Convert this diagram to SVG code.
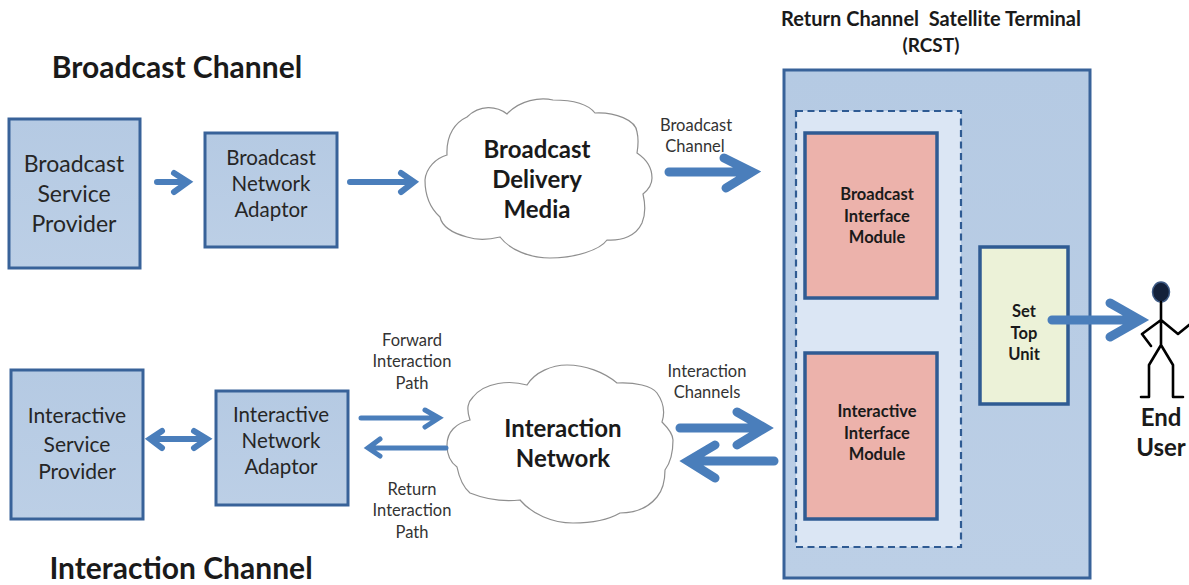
<svg xmlns="http://www.w3.org/2000/svg" width="1189" height="585" viewBox="0 0 1189 585">
<defs>
<linearGradient id="g" x1="0" y1="0" x2="0" y2="1"><stop offset="0" stop-color="#b5cae3"/><stop offset="1" stop-color="#bccfe6"/></linearGradient>
</defs>
<style>
text{font-family:Lato,"Liberation Sans",sans-serif;fill:#1a1a1a;text-anchor:middle}
.box{fill:url(#g);stroke:#386299;stroke-width:3}
.pink{fill:#ecb2ab;stroke:#2f5b93;stroke-width:3.5}
.cloud{fill:#fff;stroke:#8f8f8f;stroke-width:1.2}
.a{fill:none;stroke:#4a7ebb;stroke-linejoin:miter;stroke-linecap:round}
.b{font-weight:700}
.s{font-size:16.5px;fill:#333}
.l{font-size:23px;fill:#262626}
.m{font-size:20.5px;fill:#262626}
.i{font-size:16.5px;font-weight:700}
.c{font-size:24px;font-weight:700}
.h{font-size:30px;font-weight:700}
.f{fill:none;stroke:#000;stroke-width:2.6;stroke-linejoin:round;stroke-linecap:round}
</style>
<rect width="1189" height="585" fill="#fff"/>
<text class="h" x="177" y="78">Broadcast Channel</text>
<text class="h" x="181" y="579">Interaction Channel</text>
<g id="rcst">
<text class="b" x="931" y="26" font-size="20" xml:space="preserve">Return Channel  Satellite Terminal</text>
<text class="b" x="931" y="52" font-size="19">(RCST)</text>
<rect class="box" x="784" y="70" width="306" height="508"/>
<rect x="796" y="111" width="165" height="436" fill="#dbe6f4" stroke="#2f5b93" stroke-width="2.2" stroke-dasharray="7 4.5"/>
</g>
<g id="broadcast-service-provider">
<rect class="box" x="9" y="119" width="131" height="149"/>
<text class="l" x="74" y="172">Broadcast</text>
<text class="l" x="74" y="202">Service</text>
<text class="l" x="74" y="232">Provider</text>
</g>
<g id="broadcast-network-adaptor">
<rect class="box" x="205" y="133" width="132" height="114"/>
<text class="m" x="271" y="165">Broadcast</text>
<text class="m" x="271" y="191">Network</text>
<text class="m" x="271" y="217">Adaptor</text>
</g>
<g id="interactive-service-provider">
<rect class="box" x="11" y="370" width="132" height="149"/>
<text class="l" style="font-size:21px" x="77" y="423">Interactive</text>
<text class="l" style="font-size:21px" x="77" y="452">Service</text>
<text class="l" style="font-size:21px" x="77" y="479">Provider</text>
</g>
<g id="interactive-network-adaptor">
<rect class="box" x="216" y="391" width="132" height="114"/>
<text class="m" x="281" y="422">Interactive</text>
<text class="m" x="281" y="448">Network</text>
<text class="m" x="281" y="474">Adaptor</text>
</g>
<g id="broadcast-delivery-media">
<path class="cloud" d="M425 180C426 168 436 158 447 155C446 134 456 122 467 117C480 104 497 106 507 114C520 100 540 97 553 100C572 100 588 104 595 113C615 112 636 120 637 132C639 140 638 147 637 153C646 159 652 168 652 178C652 185 648 190 643 194C646 207 645 216 642 223C636 236 622 241 607 240C600 250 575 258 550 258C530 258 510 250 500 237C488 240 476 240 467 237C452 233 442 226 440 217C430 208 425 195 425 180Z"/>
<text class="c" x="537" y="158">Broadcast</text>
<text class="c" x="537" y="188">Delivery</text>
<text class="c" x="537" y="218">Media</text>
</g>
<g id="interaction-network">
<path class="cloud" d="M447 445C447 432 456 423 470 420C466 408 468 402 473 397C485 382 510 380 527 385C535 372 552 365 567 365C585 365 604 372 617 383C635 382 652 386 657 393C664 403 665 413 662 422C668 428 673 434 673 440C673 451 671 462 665 470C665 484 662 491 657 497C648 508 634 513 620 513C608 520 590 523 573 523C552 523 532 514 520 500C502 502 485 499 470 493C463 487 459 477 457 467C450 462 447 454 447 445Z"/>
<text class="c" x="563" y="437">Interaction</text>
<text class="c" x="563" y="467">Network</text>
</g>
<g id="broadcast-interface-module">
<rect class="pink" x="805" y="133" width="132" height="165"/>
<text class="i" x="877" y="200">Broadcast</text>
<text class="i" x="877" y="222">Interface</text>
<text class="i" x="877" y="243">Module</text>
</g>
<g id="interactive-interface-module">
<rect class="pink" x="805" y="353" width="132" height="166"/>
<text class="i" x="877" y="417">Interactive</text>
<text class="i" x="877" y="439">Interface</text>
<text class="i" x="877" y="460">Module</text>
</g>
<g id="set-top-unit">
<rect x="980" y="247" width="88" height="157" fill="#ecf2d8" stroke="#2f5b93" stroke-width="3.5"/>
<text class="i" x="1024" y="317">Set</text>
<text class="i" x="1024" y="339">Top</text>
<text class="i" x="1024" y="360">Unit</text>
</g>
<g id="end-user">
<ellipse cx="1161" cy="292" rx="8.5" ry="10" fill="#14213a" stroke="#3d5a85" stroke-width="1.5"/>
<path class="f" d="M1161 302V345M1142 334L1161 320L1178 334L1189 325M1142 334L1151 346M1161 345L1149 365V397H1141M1161 345L1173 365V397H1183"/>
<text class="c" x="1161" y="426">End</text>
<text class="c" x="1161" y="456">User</text>
</g>
<g id="connectors">
<path class="a" stroke-width="6" d="M157 182H187M174 173L188 182L174 192"/>
<path class="a" stroke-width="6" d="M350 182H413M401 173L414 182L401 192"/>
<path class="a" stroke-width="9" d="M669 172H751M724 158L752 172L726 188"/>
<path class="a" stroke-width="6" d="M152 439H206M162 431L150 439L162 448M194 431L207 439L194 448"/>
<path class="a" stroke-width="5" d="M361 418H438M425 410L439 418L425 427"/>
<path class="a" stroke-width="5" d="M446 448H369M380 439L368 448L380 456"/>
<path class="a" stroke-width="9" d="M680 428H764M737 412L765 428L737 445"/>
<path class="a" stroke-width="9" d="M774 461H690M715 445L688 461L715 478"/>
<path class="a" stroke-width="9" d="M1052 320H1139M1110 303L1140 320L1110 337"/>
</g>
<g id="labels" class="s">
<text class="s" x="696" y="131">Broadcast</text>
<text class="s" x="695" y="152">Channel</text>
<text class="s" x="412" y="346">Forward</text>
<text class="s" x="412" y="367">Interaction</text>
<text class="s" x="412" y="389">Path</text>
<text class="s" x="412" y="495">Return</text>
<text class="s" x="412" y="516">Interaction</text>
<text class="s" x="412" y="538">Path</text>
<text class="s" x="707" y="377">Interaction</text>
<text class="s" x="707" y="398">Channels</text>
</g>
</svg>
